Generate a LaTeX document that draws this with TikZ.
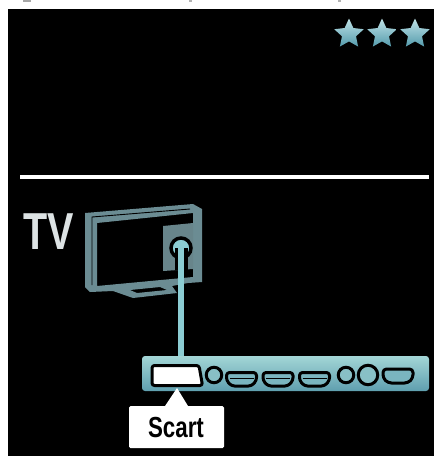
\documentclass[tikz,border=0pt]{standalone}
\usepackage{fontspec}
\setmainfont{Liberation Sans}
\usetikzlibrary{calc}
\definecolor{tvgrey}{HTML}{6B8C93}
\definecolor{panelgrey}{HTML}{68858B}
\definecolor{cable}{HTML}{8CCDD3}
\definecolor{barTop}{HTML}{A3D6D6}
\definecolor{barBot}{HTML}{5F9FAF}
\definecolor{starTop}{HTML}{BFE2E6}
\definecolor{starBot}{HTML}{549BAD}
\definecolor{tvtext}{HTML}{DDE3E4}
\tikzset{
  x=1pt,y=-1pt,
  starshape/.pic={\shade[top color=starTop,bottom color=starBot,middle color=starBot!50!starTop]
    (90:15.5) -- (126:7.4) -- (162:15.5) -- (198:7.4) -- (234:15.5) -- (270:7.4) -- (306:15.5) -- (342:7.4) -- (18:15.5) -- (54:7.4) -- cycle;},
  portline/.style={draw=black,line width=3pt,line join=round},
  roundport/.style={circle,draw=black,line width=3pt,fill=#1,inner sep=0pt},
  hdmi/.pic={\draw[portline,fill=barBot!60!barTop,rounded corners=3pt] (0,0) -- (30,0) -- (30,8) -- (25,13.5) -- (5,13.5) -- (0,8) -- cycle;
    \draw[black,line width=1.5pt] (3,6) -- (27,6);},
}
\begin{document}
\begin{tikzpicture}
\useasboundingbox (0,0) rectangle (434,456);
\fill[white] (0,0) rectangle (434,456);
\fill[black] (8,9) rectangle (434,456);
% cropped text remnants at the top edge
\fill[gray!70] (23,0) rectangle (31,1.5);
\fill[gray!60] (189,0) rectangle (192,2);
\fill[gray!60] (338,0) rectangle (341,2);
% stars
\pic at (349,34) [yscale=-1] {starshape};
\pic at (382,34) [yscale=-1] {starshape};
\pic at (415,34) [yscale=-1] {starshape};
% rule
\draw[white,line width=3.5pt] (20,177) -- (429,177);
% TV label
\node (tvlabel) [text=tvtext,font=\fontsize{52pt}{52pt}\selectfont\bfseries,inner sep=0pt,anchor=center] at (48.5,232) {\scalebox{.76}[1]{TV}};
% monitor
\fill[tvgrey,even odd rule,line join=round]
  (85,213) -- (193,204) -- (202,209) -- (202,282) -- (188,283) -- (172,286) -- (177,293) -- (133,298) -- (113,291) -- (90,292) -- (85,287) -- cycle
  (97,223) -- (97,286) -- (193,277) -- (193,213) -- cycle
  (130,290) -- (160,287) -- (167,290) -- (137,293) -- cycle;
\draw[black,line width=.9pt] (92,285) -- (92,217) -- (190,209);
\fill[panelgrey] (163,226) -- (193,223) -- (193,269) -- (163,271) -- cycle;
\coordinate (panelfoot) at (181,270);
% bar
\node (bar) [minimum width=287pt,minimum height=35pt,inner sep=0pt,rounded corners=3pt,top color=barTop,bottom color=barBot] at (285.5,373.5) {};
% cable
\node (plug) [circle,fill=cable,draw=black,line width=3.5pt,minimum size=20pt,inner sep=0pt] at (181,248) {};
\draw[black,line width=13pt] (plug.center) -- (panelfoot);
\draw[cable,line width=6pt] (plug.center) -- (plug.center |- bar.north);
% ports
\draw[portline,fill=white,rounded corners=2.5pt] (152,365.5) -- (199,365.5) -- (202.5,385.5) -- (152,385.5) -- cycle;
\node (p1) [roundport=barTop!60!barBot,minimum size=15.5pt] at (214,375) {};
\pic at (226.5,372.5) {hdmi};
\pic at (263,372.5) {hdmi};
\pic at (299.5,372.5) {hdmi};
\node (p2) [roundport=barTop!60!barBot,minimum size=15.5pt] at (346,375) {};
\node (p3) [roundport=barTop!60!barBot,minimum size=19.5pt] at (368,375) {};
\draw[portline,fill=barBot!60!barTop,rounded corners=3.5pt] (383,369) -- (413,369) -- (413,378) -- (408,383) -- (388,383) -- (383,378) -- cycle;
% callout
\fill[white,rounded corners=1.5pt] (129,406) rectangle (224,448);
\fill[white] (177,388) -- (188,406) -- (165,406) -- cycle;
\node (scart) [inner sep=0pt,font=\fontsize{29pt}{29pt}\selectfont\bfseries,text=black] at (176,427.5) {\scalebox{.77}[1]{Scart}};
\end{tikzpicture}
\end{document}
